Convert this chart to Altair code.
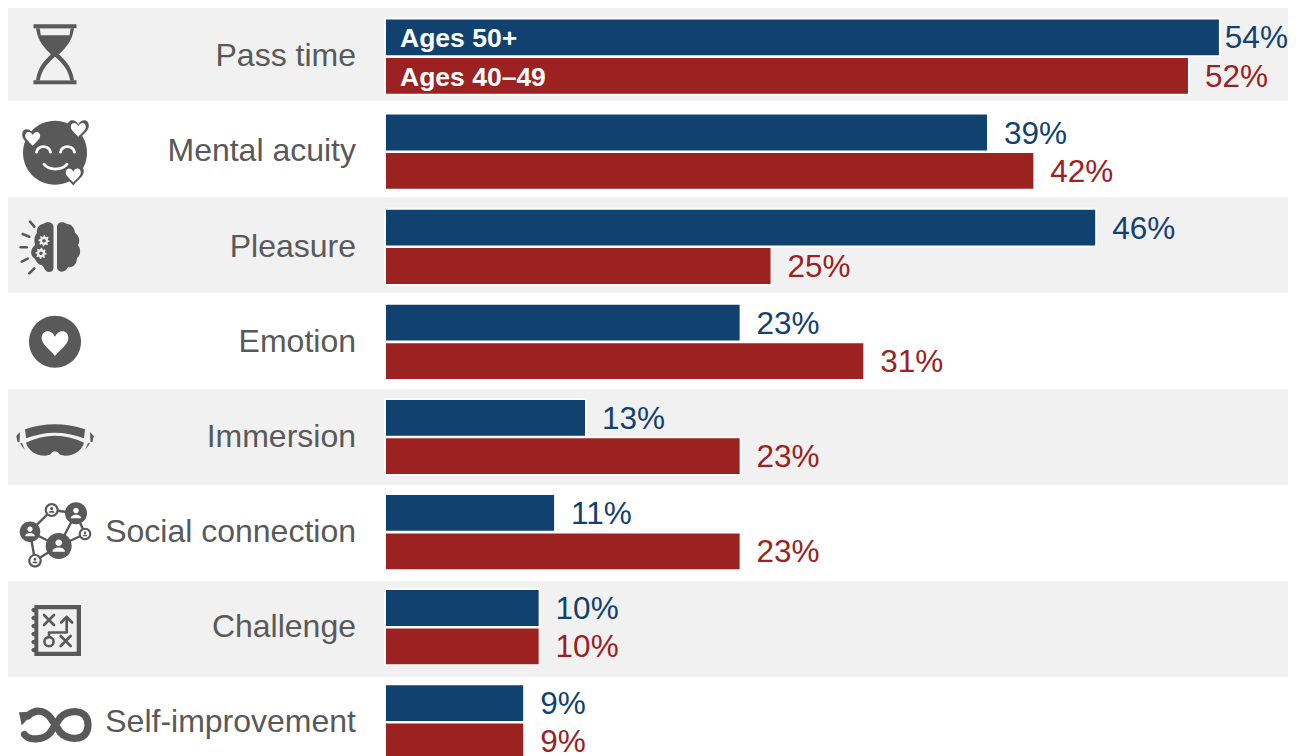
import re
import math
import altair as alt
import pandas as pd

categories = ["Pass time", "Mental acuity", "Pleasure", "Emotion", "Immersion",
              "Social connection", "Challenge", "Self-improvement"]
ages_50 = [54, 39, 46, 23, 13, 11, 10, 9]
ages_40 = [52, 42, 25, 31, 23, 23, 10, 9]
series_names = ["Ages 50+", "Ages 40–49"]
series_colors = ["#11416F", "#9C2121"]
striped_rows = ["Pass time", "Pleasure", "Immersion", "Challenge"]

INK = "#595959"
BAND = "#F1F1F1"
FONT = "Liberation Sans"


# ---- icon glyph helpers: every path uses absolute M/L/C/Q commands only ----
def n(v):
    return f"{v:.2f}"


def circle(cx, cy, r):
    k = 0.5523 * r
    return (f"M{n(cx-r)},{n(cy)} C{n(cx-r)},{n(cy-k)} {n(cx-k)},{n(cy-r)} {n(cx)},{n(cy-r)} "
            f"C{n(cx+k)},{n(cy-r)} {n(cx+r)},{n(cy-k)} {n(cx+r)},{n(cy)} "
            f"C{n(cx+r)},{n(cy+k)} {n(cx+k)},{n(cy+r)} {n(cx)},{n(cy+r)} "
            f"C{n(cx-k)},{n(cy+r)} {n(cx-r)},{n(cy+k)} {n(cx-r)},{n(cy)} Z")


def heart(cx, cy, s):
    return (f"M{n(cx)},{n(cy+s)} C{n(cx-.4*s)},{n(cy+.5*s)} {n(cx-s)},{n(cy+.15*s)} {n(cx-s)},{n(cy-.35*s)} "
            f"C{n(cx-s)},{n(cy-.95*s)} {n(cx-.3*s)},{n(cy-1.05*s)} {n(cx)},{n(cy-.45*s)} "
            f"C{n(cx+.3*s)},{n(cy-1.05*s)} {n(cx+s)},{n(cy-.95*s)} {n(cx+s)},{n(cy-.35*s)} "
            f"C{n(cx+s)},{n(cy+.15*s)} {n(cx+.4*s)},{n(cy+.5*s)} {n(cx)},{n(cy+s)} Z")


def person(cx, cy, s):
    return (circle(cx, cy - .32 * s, .33 * s) + " " +
            f"M{n(cx-.62*s)},{n(cy+.58*s)} C{n(cx-.62*s)},{n(cy+.02*s)} {n(cx+.62*s)},{n(cy+.02*s)} "
            f"{n(cx+.62*s)},{n(cy+.58*s)} Z")


def gear(cx, cy, r):
    pts = []
    for i in range(32):
        a = i * math.pi / 16
        rad = r if i % 4 < 2 else r * 0.72
        pts.append(f"{n(cx+rad*math.cos(a))},{n(cy+rad*math.sin(a))}")
    return "M" + " L".join(pts) + " Z"


def shift(path, dx, dy):
    i = [0]

    def repl(m):
        v = float(m.group(0)) + (dx if i[0] % 2 == 0 else dy)
        i[0] += 1
        return n(v)
    return re.sub(r"-?\d+\.?\d*", repl, path)


def F(p):
    return (p, "ink", "transparent", 0)


def H(p):
    return (p, "bg", "transparent", 0)


def LI(p, w):
    return (p, "transparent", INK, w)


def LH(p, w):
    return (p, "transparent", "bg", w)


hourglass = [
    F("M-21.5,-30 L21.5,-30 L21.5,-26 L-21.5,-26 Z M-21.5,26 L21.5,26 L21.5,30 L-21.5,30 Z"),
    F("M-19,-26 C-17,-12 -10,-6 -4,0 C-10,6 -17,12 -19,26 L19,26 C17,12 10,6 4,0 C10,-6 17,-12 19,-26 Z"),
    H("M-15.3,-25.7 L15.7,-25.7 L14.5,-19 L-14.2,-19 Z"),
    H("M0,2.5 C-6,8 -13,14 -15.2,26 L15.2,26 C13,14 6,8 0,2.5 Z"),
]

face = [
    F(circle(0, 0, 32)),
    F(heart(23.3, -23.4, 10.5)), F(heart(-22.3, -14.4, 10.5)), F(heart(18.3, 22.3, 10.5)),
    H(heart(23.3, -23.4, 7.5)), H(heart(-22.3, -14.4, 7.5)), H(heart(18.3, 22.3, 7.5)),
    LH("M-18.5,-0.5 C-17,-8 -6,-8 -4.5,-0.5", 2.8),
    LH("M5.5,-0.5 C7,-8 18,-8 19.5,-0.5", 2.8),
    LH("M-11,11.5 C-6,18 7,18 12,11.5", 2.8),
]

brain = [
    F("M7,-20 C7,-25 13,-26 17,-23 C22,-23 25,-18 25,-14 C30,-11 30,-5 28,-2 C31,2 31,8 27,11 "
      "C27,17 23,21 18,20 C16,26 8,26 7,21 Z"),
    F("M3.5,-20 C3.5,-25 -3,-26 -7,-23 C-11,-23 -14,-18 -13,-14 C-16,-11 -16,-6 -15,-2 "
      "C-20,2 -20,8 -16,11 C-14,13 -13,17 -9,18 C-5,19 -6,25 -1,25 C2,25 3.5,23 3.5,21 Z"),
    H(gear(-6, -6.3, 5.6)), H(gear(-9, 6.3, 5.6)),
    F(circle(-6, -6.3, 1.8)), F(circle(-9, 6.3, 1.8)),
    LI("M-20,-25.3 L-15.7,-20.3", 2.6),
    LI("M-27.3,-13 L-20.7,-10.3", 2.6),
    LI("M-29.3,0.3 L-23.3,0.3", 2.6),
    LI("M-28.3,14.7 L-22.3,11.7", 2.6),
    LI("M-20.7,26.3 L-15.7,21.3", 2.6),
]

heart_badge = [F(circle(0, 0, 26)), H(heart(0, 1, 13.3))]

goggles = [
    F("M-30,-10.7 Q0,-20.7 30,-10.7 L29,-1.7 Q0,-12.9 -29,-1.7 Z"),
    F("M-29,2.7 Q0,-11.3 29,2.7 C27,10 20,15.7 10,15.7 L5,14.7 Q0,8 -5,14.7 L-10,15.7 C-20,15.7 -27,10 -29,2.7 Z"),
    F("M-38.7,-4 L-35,-8 L-35.5,2 L-37.5,2 Z M38.7,-4 L35,-8 L35.5,2 L37.5,2 Z"),
    F("M-35,3.5 L-33,3 L-30,10 Z M35,3.5 L33,3 L30,10 Z"),
]

BIG = (3.7, 10)
LEFT = (-25, -4.3)
TR = (21, -22.7)
TOPS = (-3.3, -26)
RS = (30, -2)
BS = (-20, 24.7)
link = (f"M{LEFT[0]},{LEFT[1]} L{TOPS[0]},{TOPS[1]} L{TR[0]},{TR[1]} L{BIG[0]},{BIG[1]} L{LEFT[0]},{LEFT[1]} "
        f"L{BS[0]},{BS[1]} L{BIG[0]},{BIG[1]} L{RS[0]},{RS[1]} L{TR[0]},{TR[1]}")
social = [
    LI(link, 2.4),
    F(circle(*BIG, 13)), F(circle(*LEFT, 10.3)), F(circle(*TR, 11)),
    F(circle(*TOPS, 7)), F(circle(*RS, 6.3)), F(circle(*BS, 6.8)),
    H(person(BIG[0], BIG[1], 10)), H(person(LEFT[0], LEFT[1], 8)), H(person(TR[0], TR[1], 8.5)),
    H(circle(*TOPS, 4.8)), H(circle(*RS, 4.2)), H(circle(*BS, 4.6)),
    F(person(TOPS[0], TOPS[1], 4.6)), F(person(RS[0], RS[1], 4)), F(person(BS[0], BS[1], 4.4)),
]

notebook = [
    F("M-23.4,-25.5 L23.3,-25.5 L23.3,25.5 L-23.4,25.5 Z"),
    F(" ".join(circle(-24, y, 2.2) for y in (-20.5, -12.5, -4.5, 3.5, 11.5, 19.5))),
    H("M-19.4,-21.2 L19,-21.2 L19,21.2 L-19.4,21.2 Z"),
    LI("M-13.7,-15.5 L-3.7,-5.5 M-3.7,-15.5 L-13.7,-5.5", 2.6),
    LI("M3,5.5 L13,15.5 M13,5.5 L3,15.5", 2.6),
    LI("M-8.7,6 L-8.7,2 L9,2 L9,-13.5", 2.6),
    LI("M3.5,-8 L9,-13.5 L14.5,-8", 2.6),
    LI(circle(-8.7, 11.2, 4.6), 2.6),
]

infinity = [
    LI("M-27,-9 C-20,-16 -11,-15 -5,-8 L5,7 C11,15 33,18 33,0 C33,-18 11,-15 5,-7 "
       "L-5,8 C-11,15 -26,16 -30.5,9.5", 7.2),
    F("M-36,-12.7 L-20.5,-13.5 L-33.3,0.5 Z"),
]

# icon glyph and its nudge from the (row centre, icon column) anchor
icons = {
    "Pass time": (hourglass, 0, -2.3),
    "Mental acuity": (face, 0, 1.0),
    "Pleasure": (brain, -5, 0.2),
    "Emotion": (heart_badge, 0, -0.2),
    "Immersion": (goggles, 0, 3.0),
    "Social connection": (social, 0, 3.9),
    "Challenge": (notebook, 2.7, 3.3),
    "Self-improvement": (infinity, 0, 2.7),
}

PX_PER_PCT = 15.46
CHART_W = 1280
CHART_H = 748
ZERO_PX = 377
x_scale = alt.Scale(domain=[-ZERO_PX / PX_PER_PCT, (CHART_W - ZERO_PX) / PX_PER_PCT],
                    range=[0, CHART_W], nice=False, zero=False)
x_enc = alt.X("value:Q", scale=x_scale, axis=None)

y_bars = alt.Y("category:N", axis=None,
               scale=alt.Scale(domain=categories, range=[1.05, 761.85],
                               paddingInner=0.2, paddingOuter=0.1))
y_offset = alt.YOffset("series:N",
                       scale=alt.Scale(domain=series_names, paddingInner=0.018, paddingOuter=0))

long_rows = []
for c, a, b in zip(categories, ages_50, ages_40):
    long_rows.append({"category": c, "series": series_names[0], "value": a, "label": f"{a}%"})
    long_rows.append({"category": c, "series": series_names[1], "value": b, "label": f"{b}%"})
bars_df = pd.DataFrame(long_rows)
cat_df = pd.DataFrame({"category": categories, "value": [-29 / PX_PER_PCT] * len(categories)})
band_df = pd.DataFrame({"category": striped_rows})
names_df = pd.DataFrame({"category": [categories[0]] * 2, "series": series_names,
                         "value": [15 / PX_PER_PCT] * 2})

icon_rows = []
for cat, (parts, dx, dy) in icons.items():
    bg = BAND if cat in striped_rows else "#FFFFFF"
    for path, fill, stroke, sw in parts:
        fill = {"ink": INK, "bg": bg}.get(fill, fill)
        stroke = {"bg": bg}.get(stroke, stroke)
        icon_rows.append({"category": cat, "value": (47 - ZERO_PX) / PX_PER_PCT,
                          "path": shift(path, dx, dy), "fill": fill, "stroke": stroke, "sw": sw})
icon_df = pd.DataFrame(icon_rows)

bands = alt.Chart(band_df).mark_rect(color=BAND).encode(
    x=alt.value(0), x2=alt.value(CHART_W),
    y=alt.Y("category:N", axis=None,
            scale=alt.Scale(domain=categories, range=[-3, 765], paddingInner=0.003, paddingOuter=0)),
)

bars = alt.Chart(bars_df).mark_bar(stroke="white", strokeWidth=1.9).encode(
    x=x_enc, y=y_bars, yOffset=y_offset,
    fill=alt.Fill("series:N", scale=alt.Scale(domain=series_names, range=series_colors), legend=None),
)


def value_labels(dx, test):
    return alt.Chart(bars_df).transform_filter(test).mark_text(
        align="left", baseline="middle", dx=dx, dy=2, font=FONT, fontSize=31.5).encode(
        x=x_enc, y=y_bars, yOffset=y_offset, text="label:N",
        color=alt.Color("series:N", scale=alt.Scale(domain=series_names, range=series_colors), legend=None),
    )


# the longest bar's label is pulled in so that it stays whole inside the page
values = value_labels(16, "datum.value < 54")
values_top = value_labels(5, "datum.value >= 54")

series_text = alt.Chart(names_df).mark_text(align="left", baseline="middle", dy=2, font=FONT, fontSize=26.5,
                                            fontWeight="bold", color="white").encode(
    x=x_enc, y=y_bars, yOffset=y_offset, text="series:N",
)

cat_text = alt.Chart(cat_df).mark_text(align="right", baseline="middle", dy=-0.3, font=FONT, fontSize=32,
                                       color=INK).encode(
    x=x_enc, y=y_bars, text="category:N",
)

icon_layer = alt.Chart(icon_df).mark_point(filled=True, opacity=1, size=4, strokeCap="round",
                                           strokeJoin="round").encode(
    x=x_enc, y=y_bars,
    shape=alt.Shape("path:N", scale=None),
    fill=alt.Fill("fill:N", scale=None),
    stroke=alt.Stroke("stroke:N", scale=None),
    strokeWidth=alt.StrokeWidth("sw:Q", scale=None),
)

chart = (
    alt.layer(bands, bars, values, values_top, series_text, cat_text, icon_layer)
    .resolve_scale(y="independent", fill="independent")
    .properties(width=CHART_W, height=CHART_H, padding=0, background="white",
                autosize=alt.AutoSizeParams(type="none"))
    .configure_view(stroke=None)
)

chart.save("out.html", embed_options={"renderer": "svg", "actions": False})
